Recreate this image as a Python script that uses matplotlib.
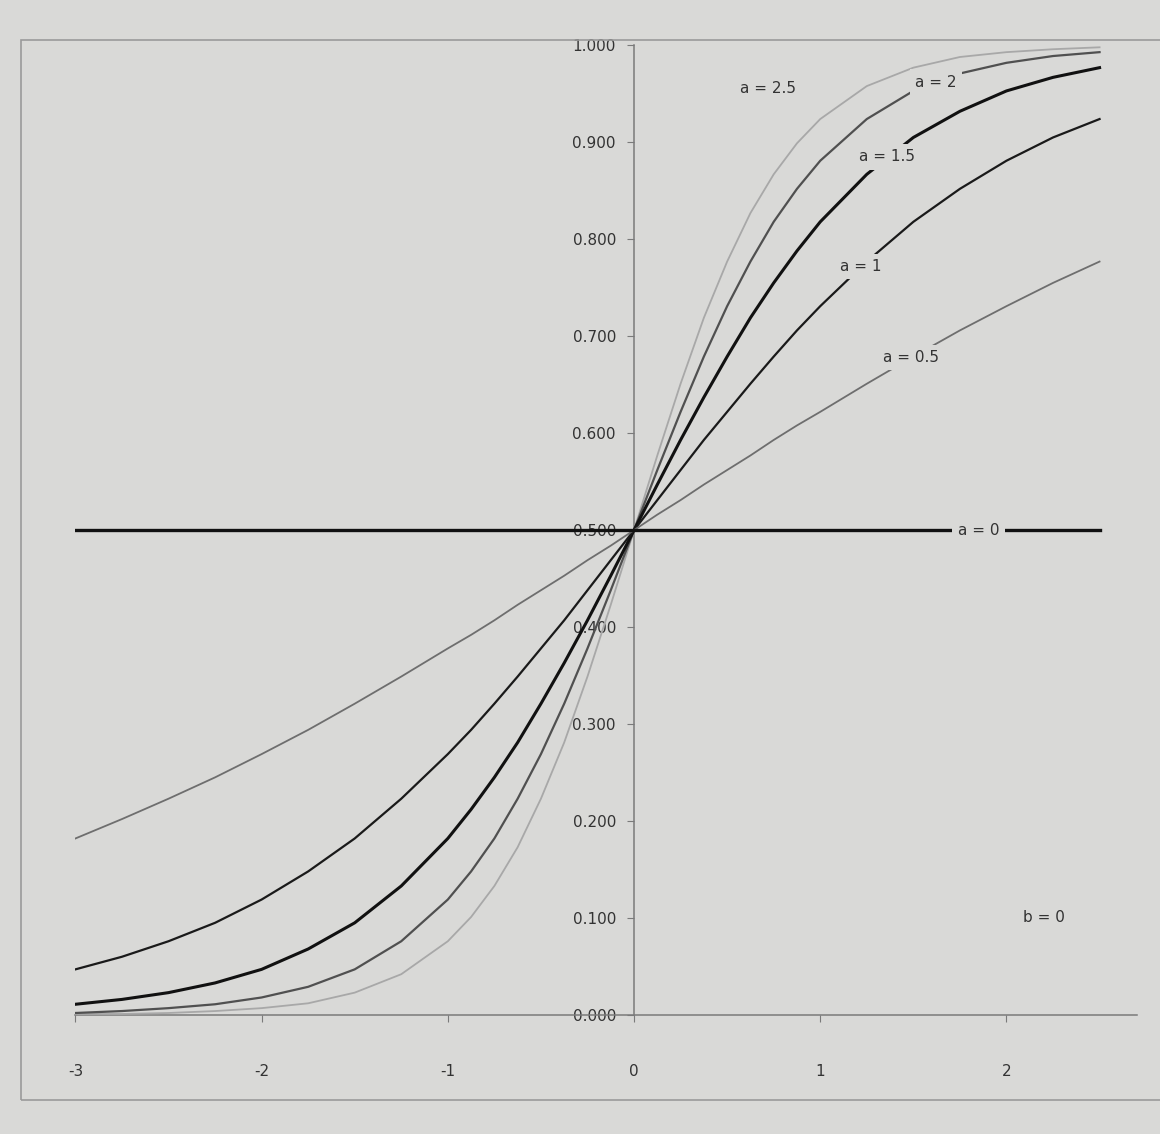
import numpy as np
import matplotlib
matplotlib.use("Agg")
import matplotlib.pyplot as plt
from matplotlib.patches import Rectangle

# x values of the series (b = 0), denser around the middle where the curves bend
x_vals = [-3.0, -2.75, -2.5, -2.25, -2.0, -1.75, -1.5, -1.25,
          -1.0, -0.875, -0.75, -0.625, -0.5, -0.375, -0.25, -0.125,
          0.0, 0.125, 0.25, 0.375, 0.5, 0.625, 0.75, 0.875, 1.0,
          1.25, 1.5, 1.75, 2.0, 2.25, 2.5]

# one list per slope a
y_a0 = [0.500] * 31
y_a05 = [0.182, 0.202, 0.223, 0.245, 0.269, 0.294, 0.321, 0.349,
         0.378, 0.392, 0.407, 0.423, 0.438, 0.453, 0.469, 0.484,
         0.500, 0.516, 0.531, 0.547, 0.562, 0.577, 0.593, 0.608, 0.622,
         0.651, 0.679, 0.706, 0.731, 0.755, 0.777]
y_a1 = [0.047, 0.060, 0.076, 0.095, 0.119, 0.148, 0.182, 0.223,
        0.269, 0.294, 0.321, 0.349, 0.378, 0.407, 0.438, 0.469,
        0.500, 0.531, 0.562, 0.593, 0.622, 0.651, 0.679, 0.706, 0.731,
        0.777, 0.818, 0.852, 0.881, 0.905, 0.924]
y_a15 = [0.011, 0.016, 0.023, 0.033, 0.047, 0.068, 0.095, 0.133,
         0.182, 0.212, 0.245, 0.281, 0.321, 0.363, 0.407, 0.453,
         0.500, 0.547, 0.593, 0.637, 0.679, 0.719, 0.755, 0.788, 0.818,
         0.867, 0.905, 0.932, 0.953, 0.967, 0.977]
y_a2 = [0.002, 0.004, 0.007, 0.011, 0.018, 0.029, 0.047, 0.076,
        0.119, 0.148, 0.182, 0.223, 0.269, 0.321, 0.378, 0.438,
        0.500, 0.562, 0.622, 0.679, 0.731, 0.777, 0.818, 0.852, 0.881,
        0.924, 0.953, 0.971, 0.982, 0.989, 0.993]
y_a25 = [0.001, 0.001, 0.002, 0.004, 0.007, 0.012, 0.023, 0.042,
         0.076, 0.101, 0.133, 0.173, 0.223, 0.281, 0.349, 0.423,
         0.500, 0.577, 0.651, 0.719, 0.777, 0.827, 0.867, 0.899, 0.924,
         0.958, 0.977, 0.988, 0.993, 0.996, 0.998]

x_ticks = [-3, -2, -1, 0, 1, 2]
x_tick_labels = ["-3", "-2", "-1", "0", "1", "2"]
y_ticks = [0.0, 0.1, 0.2, 0.3, 0.4, 0.5, 0.6, 0.7, 0.8, 0.9, 1.0]
y_tick_labels = ["0.000", "0.100", "0.200", "0.300", "0.400", "0.500",
                 "0.600", "0.700", "0.800", "0.900", "1.000"]

# curve labels: text, x, y
labels = [
    ("a = 2.5", 0.72, 0.955),
    ("a = 2", 1.62, 0.962),
    ("a = 1.5", 1.36, 0.885),
    ("a = 1", 1.22, 0.772),
    ("a = 0.5", 1.49, 0.678),
    ("a = 0", 1.85, 0.500),
]

bg = "#d9d9d7"
txt = "#333333"

fig = plt.figure(figsize=(11.6, 11.34), dpi=100)
fig.patch.set_facecolor(bg)

# chart area border
fig.patches.append(Rectangle((0.018, 0.03), 1.2, 0.935, transform=fig.transFigure,
                             fill=False, edgecolor="#9a9a9a", linewidth=1.2))

ax = fig.add_axes([0.065, 0.105, 0.915, 0.855])
ax.set_facecolor(bg)

ax.plot(x_vals, y_a25, color="#a8a8a8", linewidth=1.3, zorder=3)
ax.plot(x_vals, y_a2, color="#505050", linewidth=1.6, zorder=3)
ax.plot(x_vals, y_a15, color="#111111", linewidth=2.2, zorder=3)
ax.plot(x_vals, y_a1, color="#1a1a1a", linewidth=1.6, zorder=3)
ax.plot(x_vals, y_a05, color="#6e6e6e", linewidth=1.3, zorder=3)
ax.plot(x_vals, y_a0, color="#111111", linewidth=2.4, zorder=3)

for texto, xp, yp in labels:
    ax.text(xp, yp, texto, fontsize=11, color=txt, ha="center", va="center", zorder=5,
            bbox=dict(boxstyle="square,pad=0.35", facecolor=bg, edgecolor="none"))

ax.text(2.2, 0.10, "b = 0", fontsize=11, color=txt, ha="center", va="center")

ax.set_xlim(-3, 2.7)
ax.set_ylim(0, 1)

# axes crossing at the origin
ax.spines["left"].set_position(("data", 0))
ax.spines["bottom"].set_position(("data", 0))
ax.spines["top"].set_visible(False)
ax.spines["right"].set_visible(False)
for s in ("left", "bottom"):
    ax.spines[s].set_color("#7a7a7a")
    ax.spines[s].set_linewidth(1.1)

ax.set_xticks(x_ticks)
ax.set_xticklabels(x_tick_labels)
ax.set_yticks(y_ticks)
ax.set_yticklabels(y_tick_labels)
ax.tick_params(axis="y", direction="out", length=5, color="#7a7a7a", labelsize=11,
               labelcolor=txt, pad=8)
ax.tick_params(axis="x", direction="out", length=5, color="#7a7a7a", labelsize=11,
               labelcolor=txt, pad=30)

fig.savefig("out.png", dpi=100, facecolor=bg)
